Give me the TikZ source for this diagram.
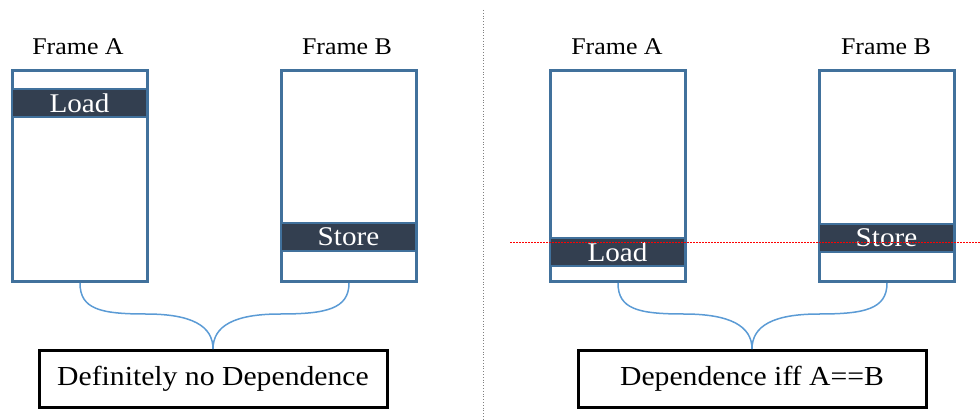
\documentclass[tikz,border=0pt]{standalone}
\usepackage{fontspec}
\setmainfont[FakeStretch=1.08]{Liberation Serif}
\definecolor{framecol}{HTML}{41719C}
\definecolor{barcol}{HTML}{333F50}
\definecolor{bracecol}{HTML}{5B9BD5}
\begin{document}
\begin{tikzpicture}[x=1pt,y=-1pt,
  framebox/.style={draw=framecol, line width=3pt, minimum width=135pt,
    minimum height=211pt, inner sep=0pt, anchor=north west},
  barbox/.style={draw=framecol, line width=2pt, fill=barcol, text=white,
    minimum width=135pt, minimum height=28pt, inner sep=0pt, anchor=north west,
    font=\fontsize{27}{30}\selectfont},
  framelabel/.style={font=\fontsize{24}{28}\selectfont, inner sep=0pt},
  resultbox/.style={draw=black, line width=3pt, minimum width=348pt,
    minimum height=57pt, inner sep=0pt, font=\fontsize{27.5}{30}\selectfont},
  bracepath/.style={draw=bracecol, line width=1.5pt}]
\useasboundingbox (0,0) rectangle (980,420);

% divider between the two cases
\draw[gray, dotted, line width=0.8pt] (483,10) -- (483,420);

% ---- left case: no dependence ----
\node[framelabel] (la) at (78,47) {Frame A};
\node[framelabel] (lb) at (347,47) {Frame B};
\node[framebox] (lfa) at (11,69) {};
\node[framebox] (lfb) at (280,69) {};
\node[barbox] (lload) at (11,88) {Load};
\node[barbox] (lstore) at (280,222) {Store};
\node[resultbox] (lres) at (213,379) {Definitely no Dependence};

\draw[bracepath] (lfa.south) .. controls ++(0,26) and (100,314) .. (146,314)
  .. controls (192,314) and (213,326) .. (lres.north);
\draw[bracepath] (lfb.south) .. controls ++(0,26) and (326,314) .. (280,314)
  .. controls (234,314) and (213,326) .. (lres.north);

% ---- right case: dependence iff A==B ----
\node[framelabel] (ra) at (617,47) {Frame A};
\node[framelabel] (rb) at (886,47) {Frame B};
\node[framebox] (rfa) at (549,69) {};
\node[framebox] (rfb) at (818,69) {};
\node[barbox] (rload) at (549,237) {Load};
\node[barbox] (rstore) at (818,223) {Store};
\node[resultbox] (rres) at (752,379) {Dependence iff A==B};

\draw[bracepath] (rfa.south) .. controls ++(0,26) and (638,314) .. (684,314)
  .. controls (730,314) and (752,326) .. (rres.north);
\draw[bracepath] (rfb.south) .. controls ++(0,26) and (865,314) .. (819,314)
  .. controls (773,314) and (752,326) .. (rres.north);

% address line shared by load and store
\coordinate (redl) at (510,242);
\coordinate (redr) at (980,242);
\draw[red, line width=1pt, dash pattern=on 1.5pt off 1.5pt] (redl) -- (redr);
\end{tikzpicture}
\end{document}
